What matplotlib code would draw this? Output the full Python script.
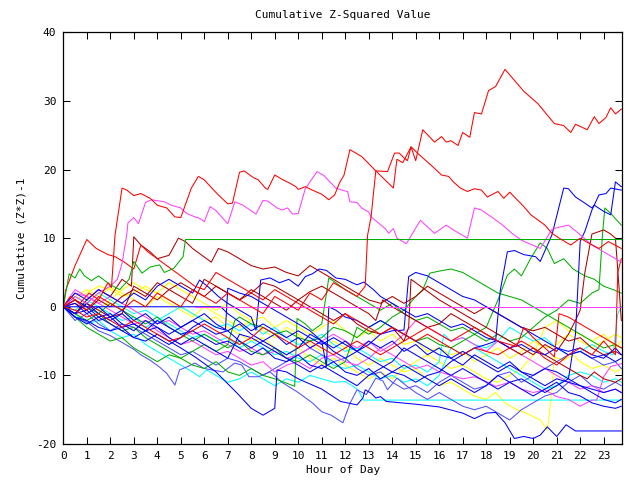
import matplotlib
matplotlib.use("Agg")
import matplotlib.pyplot as plt

# ---- data: (hour, cumulative value) vertices per series ----
red_top = [(0,0),(0.5,1),(1,-0.5),(1.5,1.5),(2,0.5),(2.5,-0.5),(3,1),(3.5,0),(4,2),(4.5,1),(5,0),(5.5,2.5),(6,1.5),(6.5,0.5),(7,2),(7.5,1),(8,0),(8.5,-1),(9,1.5),(9.5,0.5),(10,-0.5),(10.5,2),(11,1),(11.5,3.5),(12,2.5),(12.5,1.5),(12.85,3),(12.95,10.4),(13.1,13.1),(13.3,19.8),(13.8,19.7),(14.1,22.4),(14.3,22.4),(14.5,21.7),(14.65,21.3),(14.8,23.3),(15.0,21.3),(15.3,25.8),(15.8,24.0),(16.1,24.8),(16.3,24.0),(16.5,24.2),(16.8,23.5),(17.0,25.4),(17.3,24.7),(17.5,28.3),(17.8,28.1),(18.1,31.5),(18.4,32.1),(18.8,34.6),(19.6,31.4),(20.2,29.6),(20.9,26.7),(21.3,26.4),(21.6,25.4),(21.8,26.6),(22.3,25.8),(22.6,27.7),(22.8,26.7),(23.1,27.6),(23.3,29.0),(23.5,28.1),(23.75,28.8)]
red_s1 = [(0,0),(0.3,1.5),(0.7,0.5),(1.1,2),(1.5,1),(1.9,3.5),(2.05,2.8),(2.2,10.4),(2.5,17.3),(2.7,17.0),(3.0,16.2),(3.3,16.5),(3.7,15.8),(4.0,14.8),(4.4,14.4),(4.75,13.1),(5.0,13.0),(5.45,17.3),(5.75,19.0),(6.0,18.5),(6.4,17.0),(6.6,16.3),(7.0,15.0),(7.2,15.1),(7.5,19.6),(7.7,19.8),(8.1,18.8),(8.3,18.5),(8.6,17.3),(8.7,17.1),(9.0,19.2),(9.35,18.5),(9.65,18.0),(9.9,17.5),(10.0,17.1),(10.3,17.5),(10.6,17.0),(11.0,16.4),(11.3,15.6),(11.55,16.3),(11.75,18.0),(11.95,19.2),(12.2,22.9),(12.7,21.9),(13.3,19.8),(14.05,17.3),(14.2,21.5),(14.45,21.0),(14.8,23.3),(15.2,22.0),(15.6,20.8),(16.1,19.2),(16.4,19.0),(16.6,18.2),(16.9,17.3),(17.2,16.8),(17.5,17.2),(17.8,17.0),(18.05,16.0),(18.5,16.8),(18.75,15.8),(19.0,16.7),(19.6,14.6),(19.9,13.4),(20.5,11.9),(20.8,10.7),(21.2,9.8),(21.6,9),(22,10),(22.4,9.2),(22.8,8.5),(23.2,9.5),(23.75,8.5)]
red_3 = [(0,0),(0.1,2.4),(0.5,6),(1.0,9.8),(1.4,8.5),(1.9,7.6),(2.2,7.3),(2.6,6.5),(3,5.5),(3.3,9),(3.6,8),(4,7),(4.4,6),(4.8,5),(5.2,4),(5.6,3),(6,2.5),(6.5,5),(7,4),(7.5,3),(8,2),(8.5,1),(9,2.5),(9.5,1.5),(10,0.5),(10.5,-0.5),(11,-1.5),(11.5,-2.5),(12,-1),(12.5,-2),(13,-3),(13.5,-4),(14,-3),(14.5,-4),(15,-5),(15.5,-4),(16,-5),(16.5,-6),(17,-7),(17.5,-6),(18,-6.5),(18.5,-7),(19,-6),(19.5,-5),(20,-6),(20.5,-7.5),(21,-8.5),(21.5,-7),(22,-6),(22.5,-7),(23,-5),(23.5,-7),(23.6,5),(23.75,7)]
red_4 = [(0,0),(0.5,-0.5),(1,-1.5),(1.5,-1),(2,-2),(2.5,-3),(3,-2),(3.5,-3),(4,-4),(4.5,-5),(5,-4.5),(5.5,-3.5),(6,-2.5),(6.5,-3.5),(7,-4.5),(7.5,-5.5),(8,-4.5),(8.5,-3),(9,-4),(9.5,-5),(10,-6),(10.5,-5),(11,-6),(11.5,-7),(12,-6),(12.5,-5),(13,-6),(13.5,-7),(14,-6),(14.5,-5),(15,-4),(15.5,-3),(16,-4),(16.5,-5),(17,-4),(17.5,-3),(18,-4),(18.5,-5),(19.3,-5.8),(19.6,-3),(20,-4.5),(20.5,-6),(20.9,-7.3),(21.1,-1),(21.5,-1.5),(22,-2.5),(22.5,-3.5),(23,-4.5),(23.5,-5.5),(23.75,-6)]
green_1 = [(0,0),(0.25,4.8),(0.5,4.2),(0.7,5.5),(0.9,4.5),(1.2,3.8),(1.5,4.5),(2,3.2),(2.4,2.5),(2.8,4.0),(3.0,6.6),(3.35,4.9),(3.7,5.8),(4.1,6.1),(4.3,5.0),(4.7,5.6),(5.1,7.3),(5.2,9.8),(23.75,9.8)]
green_2 = [(0,0),(0.5,-1),(1,-2),(1.5,-1),(2,-2.5),(2.5,-3.5),(3,-3),(3.5,-4.5),(4,-5.5),(4.5,-6.5),(5,-7.5),(5.5,-6.5),(6,-5.5),(6.5,-6.5),(7,-5.5),(7.3,-2),(7.5,-1.5),(8,-2.5),(8.5,-3),(9,-4),(9.5,-3.5),(10,-4.5),(10.5,-5),(11,-4.5),(11.5,-3),(12,-3.5),(12.5,-4.5),(13,-3),(13.5,-2),(14,-3),(14.5,-4),(15,-5),(15.5,-4.5),(16,-5.5),(16.5,-6),(17,-5),(17.5,-4),(18,-3),(18.5,1),(18.9,4.6),(19.2,5.5),(19.5,4.5),(19.9,7.1),(20.3,9.3),(20.6,8.5),(20.9,6.3),(21.3,7),(21.7,5.5),(22.2,4.5),(22.6,4),(23,3),(23.4,2.5),(23.75,2.0)]
green_3 = [(0,0),(0.5,-1.5),(1,-3),(1.5,-4),(2,-5),(2.5,-4.5),(3,-6),(3.5,-7),(4,-8),(4.5,-7),(5,-7.5),(5.5,-8.5),(6,-9),(6.5,-8),(7,-9.5),(7.5,-10),(8,-9),(8.5,-10),(9,-10.5),(9.4,-11),(9.85,-11.6),(9.95,-1.7),(10.3,-2.5),(10.6,-3.5),(11,-2.5),(11.3,4.2),(11.6,3.5),(12,2.5),(12.5,1.5),(13,0.5),(13.5,-0.5),(14,0.5),(14.5,-1),(15,-2),(15.5,-1.5),(16,-2.5),(16.5,-3.5),(17,-3),(17.5,-4),(18,-5),(18.5,-4),(19,-5),(19.5,-4.5),(20,-3),(20.5,-1.5),(21,-0.5),(21.5,1),(22,0.5),(22.5,2),(22.8,2.5),(22.95,10.6),(23.05,14.4),(23.3,13.6),(23.75,11.9)]
green_4 = [(0,0),(0.5,1),(1,0),(1.5,-1),(2,0.5),(2.5,-0.5),(3,-1.5),(3.5,-2.5),(4,-1.5),(4.5,-3),(5,-4),(5.5,-5),(6,-4),(6.5,-5),(7,-6),(7.5,-5),(8,-6.5),(8.5,-7),(9,-6),(9.5,-7.5),(10,-8),(10.5,-7),(11,-8),(11.5,-9),(12,-8),(12.5,-3),(13,-4),(13.5,-3),(14,-1.5),(14.5,-0.5),(15,1.5),(15.3,2.5),(15.6,4.9),(16,5.2),(16.5,5.5),(17,5),(17.5,4),(18,3),(18.5,2),(19,1.5),(19.5,1),(20,0),(20.5,-1),(21,-2),(21.5,-3),(22,-4),(22.5,-5),(23,-6),(23.5,-5.5),(23.75,-6)]
blue_0 = [(0,0),(6.7,0),(7.0,-1),(7.5,-2.2),(8,-3.5),(8.5,-2.5),(9,-3.5),(9.5,-4.5),(10,-3.5),(10.5,-4.5),(11,-5.5),(11.5,-4.5),(12,-5.5),(12.5,-6.5),(13,-7.5),(13.5,-8.5),(14,-9.5),(14.5,-8.5),(15,-9.5),(15.5,-10.5),(16,-11.5),(16.5,-10.5),(17,-11.5),(17.5,-12.5),(18,-11.5),(18.5,-10),(19,-11),(19.5,-10.5),(20,-11.5),(20.5,-12.5),(21,-11.5),(21.5,-10.5),(22,-11.5),(22.5,-12.5),(23,-13.5),(23.5,-14),(23.75,-13.5)]
blue_1 = [(0,0),(0.5,-1.5),(1,-2),(1.5,-3),(2,-3.5),(2.5,-3),(3,-4.5),(3.5,-5),(4,-4),(4.5,-5),(5,-6),(5.6,-7.3),(6.5,-9.5),(7.4,-12.6),(8.0,-14.8),(8.5,-15.8),(9.0,-14.8),(9.1,-9.2),(9.5,-9.5),(10,-10.5),(11,-12),(11.8,-13.8),(12.5,-14.3),(12.75,-13.3),(12.85,-12.1),(13.1,-12.6),(13.3,-13.3),(13.5,-13.1),(13.75,-13.8),(15,-14.2),(16,-14.6),(17,-15.5),(17.5,-16.3),(18.0,-15.5),(18.4,-15.4),(18.8,-16.9),(19.2,-19.2),(19.6,-18.9),(20.0,-19.2),(20.3,-18.7),(20.6,-17.5),(21.0,-18.9),(21.4,-17.2),(21.8,-18.1),(23.75,-18.1)]
blue_2 = [(0,0),(0.5,2),(1,1),(1.5,2.5),(2,1.5),(2.5,0.5),(3,2),(3.5,1),(4,3),(4.5,4),(5,3),(5.5,2),(5.8,3.9),(6.2,2.8),(6.6,1.5),(7,0.5),(7.5,-0.5),(8,-1.5),(8.2,-3.4),(8.4,3.9),(8.8,4.2),(9.2,3.5),(9.6,4),(10,3),(10.3,4.4),(10.6,4.8),(10.9,5.5),(11.2,5.3),(11.6,4.2),(12,4.0),(12.3,3.5),(12.5,3.2),(12.8,3.6),(13.2,2.5),(13.5,1.5),(14,0.5),(14.5,-0.5),(15,-1.5),(15.5,-1),(16,-2),(16.5,-3),(17,-2.5),(17.5,-3.5),(18,-4.5),(18.5,-5),(19,-6),(19.5,-5.5),(20,-6.5),(20.5,-7),(21,-6),(21.5,-7),(22,-6.5),(22.5,-7.5),(23,-7),(23.5,-8),(23.75,-7.5)]
blue_3 = [(0,0),(0.5,-1),(1,0.5),(1.5,-1),(2,-2),(2.5,-1),(3,-2.5),(3.5,-3.5),(4,-3),(4.5,-4.5),(5,-5.5),(5.5,-4.5),(6,-5.5),(6.5,-6.5),(7,-7.5),(7.5,-4),(8,-4.5),(8.5,-5.5),(9,-6.5),(9.5,-7.5),(10,-8.5),(10.5,-9.5),(11,-8.5),(11.5,-9.5),(12,-10.5),(12.5,-11.5),(13,-10),(13.5,-9),(14,-8),(14.5,-6),(15,-7),(15.5,-8),(16,-9),(16.5,-10),(17,-9),(17.5,-10),(18,-11),(18.5,-12),(19,-11),(19.5,-12),(20,-13),(20.5,-12),(21,-11),(21.5,-12.5),(22,-13),(22.5,-14),(23,-14.5),(23.5,-14.8),(23.75,-14.5)]
blue_4 = [(0,0),(0.5,1),(1,0),(1.5,-1.5),(2,-1),(2.5,-2.5),(3,-3.5),(3.5,-2),(4,-3),(4.5,-4),(5,-3),(5.5,-2),(6,-3),(6.5,-4),(7,-3.5),(7.5,-5),(8,-6),(8.5,-5),(9,-6),(9.5,-7),(10,-6),(10.5,-4),(11,-5),(11.5,-6),(12,-5),(12.5,-6.5),(13,-5.5),(13.5,-4),(14,-3.5),(14.5,-3.4),(14.7,4.4),(15,5),(15.5,4.5),(16,3.5),(16.5,2.5),(17,1.5),(17.5,1),(18,0),(18.5,-1),(19,-2),(19.5,-3),(20,-4),(20.5,-5),(21,-6),(21.5,-6.5),(22,-6),(22.5,-7),(23,-7.5),(23.5,-6),(23.75,-7)]
blue_5 = [(0,0),(0.5,-1.5),(1,-2.5),(1.5,-1.5),(2,-2.5),(2.5,-3.5),(3,-4.5),(3.5,-3.5),(4,-4.5),(4.5,-5.5),(5,-4.5),(5.5,-3),(6,-2),(6.5,-3),(6.9,-3.4),(7.0,2.7),(7.5,2),(8,1.5),(8.5,0.5),(9,-0.5),(9.5,-1.5),(10,-2.5),(10.5,-3.5),(11,-5),(11.2,-8.7),(11.3,0),(11.6,-0.5),(12,-1.5),(12.5,-2),(13,-3),(13.5,-2),(14,-3),(14.5,-4),(15,-5),(15.5,-6),(16,-7),(16.5,-7.5),(17,-6.5),(17.5,-7.5),(18,-8.5),(18.5,-9.5),(19,-8.5),(19.5,-9.5),(20,-10.5),(20.5,-11.5),(21,-10.5),(21.5,-11),(22,-11.5),(22.5,-12),(23,-12.5),(23.5,-12),(23.75,-12.5)]
blue_h1 = [(0,0),(0.5,-1),(1,-0.5),(1.5,-2),(2,-1.5),(2.5,-3),(3,-2.5),(3.5,-3.5),(4,-2),(4.5,-3),(5,-4),(5.5,-3.5),(6,-4.5),(6.5,-5.5),(7,-5),(7.5,-6),(8,-7),(8.5,-6),(9,-7.5),(9.5,-8),(10,-7),(10.5,-8.5),(11,-9),(11.5,-8),(12,-9.5),(12.5,-10),(13,-9),(13.5,-10.5),(14,-9.5),(14.5,-10),(15,-11),(15.5,-10),(16,-9.5),(16.5,-8),(17,-7),(17.5,-6),(18,-5.5),(18.4,-5),(18.6,2.4),(18.9,8.0),(19.2,8.2),(19.6,7.6),(20.1,7.3),(20.3,6.6),(20.8,10.5),(21.3,17.3),(21.5,17.2),(21.8,16.0),(22.2,15.1),(22.5,14.4),(22.6,14.8),(23.0,13.9),(23.3,13.4),(23.4,15.8),(23.5,18.2),(23.75,17.5)]
blue_h2 = [(0,0),(0.5,0.5),(1,-1),(1.5,0),(2,-1.5),(2.5,-0.5),(3,-2),(3.5,-1),(4,-2.5),(4.5,-1.5),(5,-3),(5.5,-2),(6,-1),(6.5,-2.5),(7,-3.5),(7.5,-2.5),(8,-4),(8.5,-5),(9,-4),(9.5,-5.5),(10,-4.5),(10.5,-6),(11,-5),(11.5,-6.5),(12,-7.5),(12.5,-6.5),(13,-5),(13.5,-6),(14,-5),(14.5,-6.5),(15,-5.5),(15.5,-7),(16,-6),(16.5,-7.5),(17,-8.5),(17.5,-7),(18,-8),(18.5,-9),(19,-8),(19.5,-9.5),(20,-10),(20.5,-9),(21,-9.5),(21.5,-10.5),(21.8,-4),(22.0,9.5),(22.2,11),(22.5,14.1),(22.8,16.3),(23.1,16.5),(23.3,17.3),(23.75,17.0)]
magenta_0 = [(5.6,0),(23.75,0)]
magenta_1 = [(0,0),(0.5,1.5),(1,0.5),(1.5,2),(2,3),(2.3,4),(2.5,6.3),(2.7,10.5),(2.75,12.2),(3.0,13.0),(3.2,12.1),(3.5,15.2),(3.75,15.6),(4.3,15.3),(4.6,14.8),(5.0,14.4),(5.25,13.6),(5.6,13.1),(5.8,12.9),(6.0,12.4),(6.25,14.6),(6.5,14.0),(7.0,12.1),(7.3,15.3),(7.65,14.8),(8.2,13.5),(8.5,15.5),(8.7,15.4),(9.1,14.4),(9.3,14.1),(9.55,14.4),(9.75,13.5),(10.0,13.6),(10.3,17.2),(10.8,19.7),(11.1,19.1),(11.6,17.3),(11.85,17.0),(12.1,16.8),(12.2,15.3),(12.5,15.2),(12.7,14.4),(13.0,13.8),(13.1,13.1),(13.7,11.4),(13.85,10.7),(14.05,11.4),(14.2,10.0),(14.6,9.2),(15.2,12.6),(15.8,10.7),(16.3,11.9),(16.6,11.2),(17.2,10.0),(17.5,14.4),(17.8,14.1),(18.3,12.9),(18.7,11.9),(19.1,10.7),(19.5,9.7),(20.3,8.5),(20.8,11.3),(21.1,11.6),(21.5,11.9),(22.0,10.5),(22.5,9),(23,8),(23.75,6.5)]
magenta_2 = [(0,0),(0.5,2),(1,1.5),(1.5,0.5),(2,-0.5),(2.5,-1.5),(3,-2.5),(3.5,-2),(4,-3.5),(4.5,-4.5),(5,-5.5),(5.5,-5),(6,-6),(6.5,-7),(7,-6.5),(7.5,-7.5),(8,-8.5),(8.5,-8),(9,-9.5),(9.5,-8.5),(10,-8),(10.5,-9),(11,-7.5),(11.5,-7),(12,-8),(12.5,-8.5),(13,-7.5),(13.5,-6),(14,-7),(14.5,-8),(15,-9),(15.5,-8.5),(16,-9.5),(16.5,-10),(17,-10.5),(17.5,-10.2),(18,-10.9),(18.4,-11.6),(19,-11),(19.5,-12),(20,-12.5),(20.5,-12.1),(21,-13.1),(21.5,-13.5),(22,-14.5),(22.5,-13.6),(22.7,-13.6),(23.0,-10.2),(23.3,-8.7),(23.75,-8.3)]
magenta_3 = [(0,0),(0.5,2.5),(1,1.5),(1.5,0.5),(2,1.5),(2.5,0.5),(3,-0.5),(3.5,-1.5),(4,-2.5),(4.5,-2),(5,-3),(5.5,-4),(6,-3.5),(6.5,-4.5),(7,-5.5),(7.5,-6.5),(8,-6),(8.5,-7),(9,-6.5),(9.5,-7.5),(10,-7),(10.5,-6),(11,-5),(11.5,-4),(12,-5),(12.5,-6),(13,-5),(13.5,-6.5),(14,-5.5),(14.5,-4),(15,-2),(15.5,-3),(16,-4),(16.5,-5),(17,-4.5),(17.5,-5.5),(18,-6.5),(18.5,-5),(19,-6),(19.5,-7),(20,-8),(20.5,-9),(21,-10),(21.5,-11),(22,-12),(22.5,-11.5),(23,-12.5),(23.5,-12),(23.75,-12.5)]
cyan_0 = [(0,0),(0.5,-1),(1,-2.5),(1.5,-2),(2,-3.5),(2.5,-4.5),(3,-4),(3.5,-5.5),(4,-6.5),(4.5,-7.5),(5,-8.5),(5.5,-9.5),(5.8,-10.2),(6.1,-9.2),(6.5,-10),(7,-11),(7.5,-10.5),(8,-9.5),(8.5,-10.5),(9,-11.5),(9.5,-10.5),(10,-11),(10.5,-10),(11,-10.5),(11.5,-11),(12,-10.9),(12.3,-11.5),(12.55,-12.1),(12.77,-13.6),(23.75,-13.6)]
cyan_2 = [(0,0),(0.5,1.5),(1,0.5),(1.5,2),(2,1),(2.5,0),(3,-1),(3.5,-0.5),(4,-1.5),(4.5,-2.5),(5,-3.5),(5.5,-4.5),(6,-4),(6.5,-5),(7,-4.5),(7.5,-6),(8,-5),(8.5,-6),(9,-7),(9.5,-6.5),(10,-7.5),(10.5,-8),(11,-7),(11.5,-8.5),(12,-9),(12.5,-8.5),(13,-9.5),(13.5,-10.5),(14,-10),(14.5,-11),(15,-10.5),(15.5,-11.5),(16,-10),(16.5,-6),(17,-7),(17.5,-6),(18,-7),(18.5,-8),(19,-9),(19.5,-10),(20,-11),(20.5,-12),(21,-11.5),(21.5,-10),(22,-9.5),(22.5,-10),(23,-11),(23.5,-10.5),(23.75,-11)]
cyan_3 = [(0,0),(0.5,-0.5),(1,1),(1.5,0),(2,-1),(2.5,-2),(3,-1.5),(3.5,-3),(4,-2),(4.5,-1),(5,0),(5.5,-1),(6,-2),(6.5,-3),(7,-2.5),(7.5,-3.5),(8,-2.5),(8.5,-4),(9,-3),(9.5,-4.5),(10,-5.5),(10.5,-5),(11,-4),(11.5,-5.5),(12,-6.5),(12.5,-6),(13,-7),(13.5,-8),(14,-7.5),(14.5,-9),(15,-8.5),(15.5,-9.5),(16,-8),(16.2,-4),(16.5,-5),(17,-4.5),(17.5,-5.5),(18,-6),(18.5,-5),(19,-3),(19.5,-4),(20,-5),(20.5,-4.5),(21,-6),(21.5,-7),(22,-6.5),(22.5,-5.5),(23,-6.5),(23.4,-7),(23.6,-1),(23.75,0)]
darkred_1 = [(0,0),(0.5,-1),(1,0.5),(1.5,-0.5),(2,-1.5),(2.5,-1),(3,3),(3.5,2),(4,1),(4.5,2.5),(5,1.5),(5.5,0.5),(6,4),(6.5,3),(7,2),(7.5,1),(8,2.5),(8.5,1.5),(9,0.5),(9.5,-0.5),(10,1),(10.5,0),(11,-1),(11.5,-2),(12,-1),(12.5,-2.5),(13,-3.5),(13.5,-4),(14,-3),(14.5,-5),(14.7,-3),(14.8,4),(15.2,3),(15.6,2),(16,1),(16.5,0),(17,-1),(17.5,-2),(18,-3),(18.5,-4),(19,-5),(19.5,-6),(20,-7),(20.5,-5.5),(21,-6.5),(21.5,-4),(21.8,-2),(22.0,-0.5),(22.2,5),(22.5,10.6),(23.0,11.2),(23.3,10.6),(23.5,10),(23.65,3),(23.75,-2)]
darkred_2 = [(0,0),(0.5,-1),(1,1),(1.5,2.5),(2,1.5),(2.5,4),(2.9,3),(3.0,10.2),(3.3,9),(3.7,8),(4,7),(4.5,7.5),(4.9,10),(5.2,9.5),(5.5,8.5),(5.9,7.5),(6.3,6.5),(6.6,8.5),(7,8),(7.5,7),(8,6),(8.5,5.5),(9,5.8),(9.5,5),(10,4.5),(10.5,6),(11,5),(11.5,4),(12,3),(12.5,2),(13,1),(13.5,0.5),(14,1.5),(14.5,0.5),(15,1.5),(15.5,3),(16,2),(16.5,1),(17,0),(17.5,-1),(18,0),(18.5,-1),(19,-2),(19.5,-3),(20,-3.5),(20.5,-3),(21,-4),(21.5,-5),(22,-4.5),(22.5,-6),(23,-7),(23.5,-6.5),(23.75,-7)]
darkred_3 = [(0,0),(0.5,0.5),(1,-0.5),(1.5,1),(2,0),(2.5,1.5),(3,2.5),(3.5,1.5),(4,3.5),(4.5,2.5),(5,3.5),(5.5,2.5),(6,1.5),(6.5,3),(7,2),(7.5,1),(8,2),(8.5,3.5),(9,3),(9.5,2),(10,1),(10.5,2.2),(11,3),(11.5,2),(12,1),(12.5,0),(13,-1),(13.3,-2),(13.6,1),(14,0),(14.5,-1),(15,-2),(15.5,-3),(16,-2.5),(16.5,-1),(17,-2),(17.5,-3),(18,-4),(18.5,-5),(19,-6),(19.5,-7),(20,-6),(20.5,-7),(21,-8),(21.5,-9),(22,-10),(22.3,-10.5),(22.6,-9.5),(23,-10.5),(23.5,-11),(23.75,-10.5)]
yellow_1 = [(0,0),(0.5,1.5),(1,2.5),(1.5,1.5),(2,2.8),(2.5,2),(3,1),(3.5,0),(4,1.5),(4.5,0.5),(5,-0.5),(5.5,-1.5),(6,0),(6.5,-1),(7,-2),(7.5,-3),(8,-2),(8.5,-3.5),(9,-4.5),(9.5,-3),(10,-4),(10.5,-5.5),(11,-6.5),(11.5,-5),(12,-6),(12.5,-7.5),(13,-8.5),(13.5,-7.5),(14,-8.5),(14.5,-9.5),(15,-9),(15.5,-10.5),(16,-11.5),(16.5,-11),(17,-12),(17.5,-13),(18,-13.5),(18.4,-12.5),(18.8,-14),(19.3,-15),(19.7,-15.5),(20.3,-16.5),(20.6,-18),(20.8,-12.1),(20.9,-7.3),(21.3,-7.8),(21.7,-7),(22,-8),(22.5,-9),(23,-8.5),(23.5,-9.5),(23.75,-9)]
yellow_2 = [(0,0),(0.5,-0.5),(1,0.5),(1.5,-0.5),(2,1),(2.5,2.5),(3,3.5),(3.5,2.5),(4,2),(4.5,3.5),(5,2.5),(5.5,1.5),(6,0.5),(6.5,-0.5),(7,0.5),(7.5,-1),(8,-2),(8.5,-1.5),(9,-3),(9.5,-2),(10,-3),(10.5,-4),(11,-3),(11.5,-2),(12,-3.5),(12.5,-4.5),(13,-3.5),(13.5,-5),(14,-4),(14.5,-5.5),(15,-5),(15.5,-6.5),(16,-6),(16.5,-7),(17,-6.5),(17.5,-8),(18,-7),(18.5,-6),(19,-7.5),(19.5,-6.5),(20,-5),(20.5,-6),(21,-5.5),(21.5,-4),(22,-5),(22.5,-6),(23,-5),(23.5,-4),(23.75,-4.5)]
yellow_3 = [(0,0),(0.5,1),(1,2),(1.5,3),(2,2.5),(2.5,1.5),(3,2),(3.5,3),(4,2),(4.5,1),(5,0),(5.5,-1),(6,-2),(6.5,-1.5),(7,-3),(7.5,-4),(8,-5),(8.5,-4.5),(9,-6),(9.5,-7),(10,-6),(10.5,-7.5),(11,-8.5),(11.5,-7.5),(12,-8.5),(12.5,-9.5),(13,-10.5),(13.5,-9.5),(14,-10.5),(14.5,-9),(15,-8),(15.5,-7),(16,-8),(16.5,-9),(17,-8.5),(17.5,-9.5),(18,-10.5),(18.5,-11),(19,-10),(19.5,-9),(20,-7),(20.5,-3),(21,-2),(21.5,-3.5),(22,-4),(22.5,-5),(23,-4),(23.5,-6),(23.75,-5)]
slate_1 = [(0,0),(0.5,-1.5),(1,-2.2),(1.5,-3.5),(2,-4.2),(2.5,-5.2),(3,-6.2),(3.3,-7.0),(3.7,-7.8),(4.1,-8.8),(4.4,-9.7),(4.75,-11.4),(4.95,-9.2),(5.3,-8.7),(5.6,-8.2),(6.0,-9.0),(6.8,-9.5),(7.3,-8.2),(7.6,-8.5),(7.9,-10.2),(8.3,-10.2),(8.8,-9.5),(9.3,-11),(10,-12.5),(10.6,-14),(11.0,-15.3),(11.4,-15.8),(11.9,-16.9),(12.2,-14.1),(12.5,-12.1),(12.9,-12.8),(13.3,-10.4),(13.6,-10.8),(13.8,-12.1),(14.2,-10.4),(14.6,-11.5),(15,-12.5),(15.5,-13.5),(16,-12.5),(16.5,-13.5),(17,-14.5),(17.5,-15),(18,-14.5),(18.5,-15.5),(19,-16.5),(19.5,-15),(20,-14),(20.5,-13),(21,-12.5),(21.5,-11),(22,-10),(22.5,-11.5),(23,-12),(23.5,-11),(23.75,-11.5)]
slate_2 = [(0,0),(0.5,-2),(1,-1),(1.5,-2.5),(2,-3.5),(2.5,-2.5),(3,-3),(3.5,-4),(4,-5),(4.5,-6),(5,-7),(5.5,-6.5),(6,-7.5),(6.5,-8.5),(7,-7.5),(7.5,-8),(8,-9),(8.5,-10),(9,-9),(9.5,-8),(10,-7),(10.5,-6),(11,-7),(11.5,-8),(12,-7.5),(12.5,-9),(13,-10),(13.5,-9.5),(14,-11),(14.5,-12),(15,-11.5),(15.5,-12.5),(16,-11),(16.5,-10),(17,-11),(17.5,-12),(18,-11.5),(18.5,-10),(19,-9.5),(19.5,-11),(20,-10),(20.5,-9),(21,-8),(21.5,-7),(22,-6.5),(22.5,-7.5),(23,-8.5),(23.5,-8),(23.75,-9)]

RED, GREEN, BLUE, MAG = "#ff0000", "#00b000", "#0000ff", "#ff40ff"
CYAN, DRED, YEL, SLATE = "#00ffff", "#b00000", "#ffff00", "#5050ff"

series = [
    (yellow_1, YEL), (yellow_2, YEL), (yellow_3, YEL),
    (cyan_0, CYAN), (cyan_2, CYAN), (cyan_3, CYAN),
    (slate_1, SLATE), (slate_2, SLATE),
    (magenta_2, MAG), (magenta_3, MAG),
    (green_2, GREEN), (green_3, GREEN), (green_4, GREEN),
    (darkred_1, DRED), (darkred_2, DRED), (darkred_3, DRED),
    (blue_0, BLUE), (blue_1, BLUE), (blue_2, BLUE), (blue_3, BLUE),
    (blue_4, BLUE), (blue_5, BLUE), (blue_h1, BLUE), (blue_h2, BLUE),
    (red_3, RED), (red_4, RED),
    (magenta_1, MAG), (magenta_0, MAG), (green_1, GREEN),
    (red_s1, RED), (red_top, RED),
]

W, H = 640, 480
fig = plt.figure(figsize=(W / 100, H / 100), dpi=100)
L, R, T, B = 63.3, 622.0, 32.3, 444.0
ax = fig.add_axes([L / W, 1 - B / H, (R - L) / W, (B - T) / H])

for pts, col in series:
    xs = [p[0] for p in pts]
    ys = [p[1] for p in pts]
    ax.plot(xs, ys, color=col, lw=0.75)

ax.set_xlim(0, 23.78)
ax.set_ylim(-20, 40)
ax.set_xticks(range(0, 24))
ax.set_yticks(range(-20, 41, 10))
mono = "DejaVu Sans Mono"
ax.set_xticklabels([str(h) for h in range(24)], fontfamily=mono, fontsize=8)
ax.set_yticklabels([str(v) for v in range(-20, 41, 10)], fontfamily=mono, fontsize=8)
ax.tick_params(direction="in", length=5, width=0.75, top=True, right=True, pad=5, colors="black")
for s in ax.spines.values():
    s.set_linewidth(0.9)
    s.set_color("black")

fig.text(0.5 * (L + R) / W, 1 - 15 / H, "Cumulative Z-Squared Value", ha="center", va="center",
         fontfamily=mono, fontsize=8)
fig.text(0.5 * (L + R) / W, 1 - 470 / H, "Hour of Day", ha="center", va="center",
         fontfamily=mono, fontsize=8)
fig.text(22 / W, 1 - 0.5 * (T + B) / H, "Cumulative (Z*Z)-1", ha="center", va="center",
         rotation=90, fontfamily=mono, fontsize=8)

fig.savefig("out.png", dpi=100)
